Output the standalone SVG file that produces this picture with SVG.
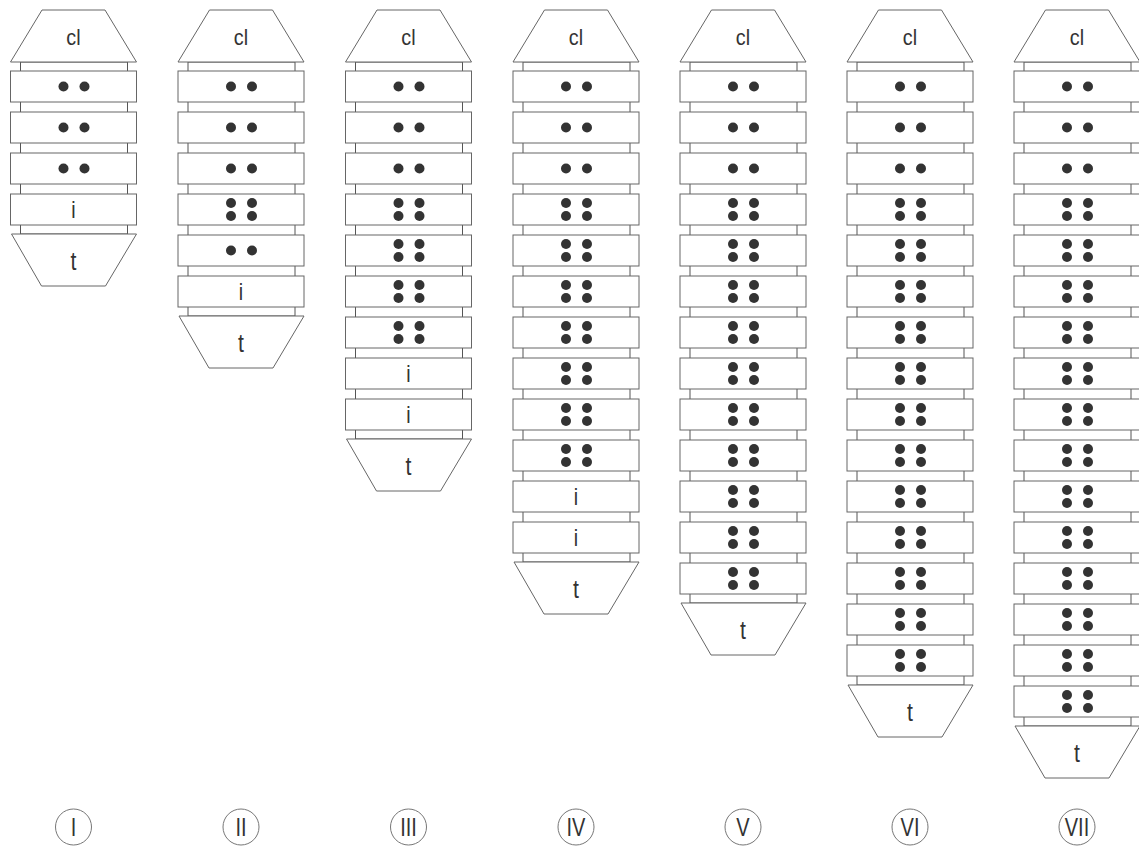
<svg xmlns="http://www.w3.org/2000/svg" xmlns:xlink="http://www.w3.org/1999/xlink" width="1139" height="846" viewBox="0 0 1139 846">
<style>
.s{fill:#fff;stroke:#666;stroke-width:1}
.b{fill:#fff;stroke:#555;stroke-width:1}
.d{fill:#333}
.t{font-family:"Liberation Sans",Arial,sans-serif;fill:#333;text-anchor:middle}
.cl{font-size:22px}
.i{font-size:23px}
.tt{font-size:25px}
.r{font-family:"Liberation Sans",Arial,sans-serif;font-size:25px;fill:#333;text-anchor:middle}
.c{fill:#fff;stroke:#777;stroke-width:1}
</style>
<defs>
<rect id="seg" class="s" x="-63" y="0" width="126" height="31"/>
<polygon id="top" class="s" points="-31.5,10 31.5,10 63,62 -63,62"/>
<polygon id="bot" class="s" points="-62,0 63,0 32,52 -32,52"/>
<g id="d2" class="d"><circle cx="-10" cy="15.5" r="5"/><circle cx="11" cy="15.5" r="5"/></g>
<g id="d4" class="d"><circle cx="-10" cy="9" r="5"/><circle cx="11" cy="9" r="5"/><circle cx="-10" cy="22" r="5"/><circle cx="11" cy="22" r="5"/></g>
</defs>

<g id="col-I" transform="translate(73.5,0)">
<rect class="b" x="-53" y="62" width="107" height="172"/>
<use href="#top"/><text class="t cl" transform="translate(0,45) scale(0.9,1)">cl</text>
<use href="#seg" y="71"/><use href="#d2" y="71"/>
<use href="#seg" y="112"/><use href="#d2" y="112"/>
<use href="#seg" y="153"/><use href="#d2" y="153"/>
<use href="#seg" y="194"/><text class="t i" transform="translate(0,218) scale(0.85,1)">i</text>
<use href="#bot" y="234"/><text class="t tt" transform="translate(0,270) scale(0.85,1)">t</text>
<circle class="c" cx="0" cy="827" r="18"/><text class="r" transform="translate(0,836) scale(0.8,1)">I</text>
</g>

<g id="col-II" transform="translate(241,0)">
<rect class="b" x="-53" y="62" width="107" height="254"/>
<use href="#top"/><text class="t cl" transform="translate(0,45) scale(0.9,1)">cl</text>
<use href="#seg" y="71"/><use href="#d2" y="71"/>
<use href="#seg" y="112"/><use href="#d2" y="112"/>
<use href="#seg" y="153"/><use href="#d2" y="153"/>
<use href="#seg" y="194"/><use href="#d4" y="194"/>
<use href="#seg" y="235"/><use href="#d2" y="235"/>
<use href="#seg" y="276"/><text class="t i" transform="translate(0,300) scale(0.85,1)">i</text>
<use href="#bot" y="316"/><text class="t tt" transform="translate(0,352) scale(0.85,1)">t</text>
<circle class="c" cx="0" cy="827" r="18"/><text class="r" transform="translate(0,836) scale(0.8,1)">II</text>
</g>

<g id="col-III" transform="translate(408.5,0)">
<rect class="b" x="-53" y="62" width="107" height="377"/>
<use href="#top"/><text class="t cl" transform="translate(0,45) scale(0.9,1)">cl</text>
<use href="#seg" y="71"/><use href="#d2" y="71"/>
<use href="#seg" y="112"/><use href="#d2" y="112"/>
<use href="#seg" y="153"/><use href="#d2" y="153"/>
<use href="#seg" y="194"/><use href="#d4" y="194"/>
<use href="#seg" y="235"/><use href="#d4" y="235"/>
<use href="#seg" y="276"/><use href="#d4" y="276"/>
<use href="#seg" y="317"/><use href="#d4" y="317"/>
<use href="#seg" y="358"/><text class="t i" transform="translate(0,382) scale(0.85,1)">i</text>
<use href="#seg" y="399"/><text class="t i" transform="translate(0,423) scale(0.85,1)">i</text>
<use href="#bot" y="439"/><text class="t tt" transform="translate(0,475) scale(0.85,1)">t</text>
<circle class="c" cx="0" cy="827" r="18"/><text class="r" transform="translate(0,836) scale(0.8,1)">III</text>
</g>

<g id="col-IV" transform="translate(576,0)">
<rect class="b" x="-53" y="62" width="107" height="500"/>
<use href="#top"/><text class="t cl" transform="translate(0,45) scale(0.9,1)">cl</text>
<use href="#seg" y="71"/><use href="#d2" y="71"/>
<use href="#seg" y="112"/><use href="#d2" y="112"/>
<use href="#seg" y="153"/><use href="#d2" y="153"/>
<use href="#seg" y="194"/><use href="#d4" y="194"/>
<use href="#seg" y="235"/><use href="#d4" y="235"/>
<use href="#seg" y="276"/><use href="#d4" y="276"/>
<use href="#seg" y="317"/><use href="#d4" y="317"/>
<use href="#seg" y="358"/><use href="#d4" y="358"/>
<use href="#seg" y="399"/><use href="#d4" y="399"/>
<use href="#seg" y="440"/><use href="#d4" y="440"/>
<use href="#seg" y="481"/><text class="t i" transform="translate(0,505) scale(0.85,1)">i</text>
<use href="#seg" y="522"/><text class="t i" transform="translate(0,546) scale(0.85,1)">i</text>
<use href="#bot" y="562"/><text class="t tt" transform="translate(0,598) scale(0.85,1)">t</text>
<circle class="c" cx="0" cy="827" r="18"/><text class="r" transform="translate(0,836) scale(0.8,1)">IV</text>
</g>

<g id="col-V" transform="translate(743,0)">
<rect class="b" x="-53" y="62" width="107" height="541"/>
<use href="#top"/><text class="t cl" transform="translate(0,45) scale(0.9,1)">cl</text>
<use href="#seg" y="71"/><use href="#d2" y="71"/>
<use href="#seg" y="112"/><use href="#d2" y="112"/>
<use href="#seg" y="153"/><use href="#d2" y="153"/>
<use href="#seg" y="194"/><use href="#d4" y="194"/>
<use href="#seg" y="235"/><use href="#d4" y="235"/>
<use href="#seg" y="276"/><use href="#d4" y="276"/>
<use href="#seg" y="317"/><use href="#d4" y="317"/>
<use href="#seg" y="358"/><use href="#d4" y="358"/>
<use href="#seg" y="399"/><use href="#d4" y="399"/>
<use href="#seg" y="440"/><use href="#d4" y="440"/>
<use href="#seg" y="481"/><use href="#d4" y="481"/>
<use href="#seg" y="522"/><use href="#d4" y="522"/>
<use href="#seg" y="563"/><use href="#d4" y="563"/>
<use href="#bot" y="603"/><text class="t tt" transform="translate(0,639) scale(0.85,1)">t</text>
<circle class="c" cx="0" cy="827" r="18"/><text class="r" transform="translate(0,836) scale(0.8,1)">V</text>
</g>

<g id="col-VI" transform="translate(910,0)">
<rect class="b" x="-53" y="62" width="107" height="623"/>
<use href="#top"/><text class="t cl" transform="translate(0,45) scale(0.9,1)">cl</text>
<use href="#seg" y="71"/><use href="#d2" y="71"/>
<use href="#seg" y="112"/><use href="#d2" y="112"/>
<use href="#seg" y="153"/><use href="#d2" y="153"/>
<use href="#seg" y="194"/><use href="#d4" y="194"/>
<use href="#seg" y="235"/><use href="#d4" y="235"/>
<use href="#seg" y="276"/><use href="#d4" y="276"/>
<use href="#seg" y="317"/><use href="#d4" y="317"/>
<use href="#seg" y="358"/><use href="#d4" y="358"/>
<use href="#seg" y="399"/><use href="#d4" y="399"/>
<use href="#seg" y="440"/><use href="#d4" y="440"/>
<use href="#seg" y="481"/><use href="#d4" y="481"/>
<use href="#seg" y="522"/><use href="#d4" y="522"/>
<use href="#seg" y="563"/><use href="#d4" y="563"/>
<use href="#seg" y="604"/><use href="#d4" y="604"/>
<use href="#seg" y="645"/><use href="#d4" y="645"/>
<use href="#bot" y="685"/><text class="t tt" transform="translate(0,721) scale(0.85,1)">t</text>
<circle class="c" cx="0" cy="827" r="18"/><text class="r" transform="translate(0,836) scale(0.8,1)">VI</text>
</g>

<g id="col-VII" transform="translate(1077,0)">
<rect class="b" x="-53" y="62" width="107" height="664"/>
<use href="#top"/><text class="t cl" transform="translate(0,45) scale(0.9,1)">cl</text>
<use href="#seg" y="71"/><use href="#d2" y="71"/>
<use href="#seg" y="112"/><use href="#d2" y="112"/>
<use href="#seg" y="153"/><use href="#d2" y="153"/>
<use href="#seg" y="194"/><use href="#d4" y="194"/>
<use href="#seg" y="235"/><use href="#d4" y="235"/>
<use href="#seg" y="276"/><use href="#d4" y="276"/>
<use href="#seg" y="317"/><use href="#d4" y="317"/>
<use href="#seg" y="358"/><use href="#d4" y="358"/>
<use href="#seg" y="399"/><use href="#d4" y="399"/>
<use href="#seg" y="440"/><use href="#d4" y="440"/>
<use href="#seg" y="481"/><use href="#d4" y="481"/>
<use href="#seg" y="522"/><use href="#d4" y="522"/>
<use href="#seg" y="563"/><use href="#d4" y="563"/>
<use href="#seg" y="604"/><use href="#d4" y="604"/>
<use href="#seg" y="645"/><use href="#d4" y="645"/>
<use href="#seg" y="686"/><use href="#d4" y="686"/>
<use href="#bot" y="726"/><text class="t tt" transform="translate(0,762) scale(0.85,1)">t</text>
<circle class="c" cx="0" cy="827" r="18"/><text class="r" transform="translate(0,836) scale(0.8,1)">VII</text>
</g>
<g id="connectors"/>
</svg>
